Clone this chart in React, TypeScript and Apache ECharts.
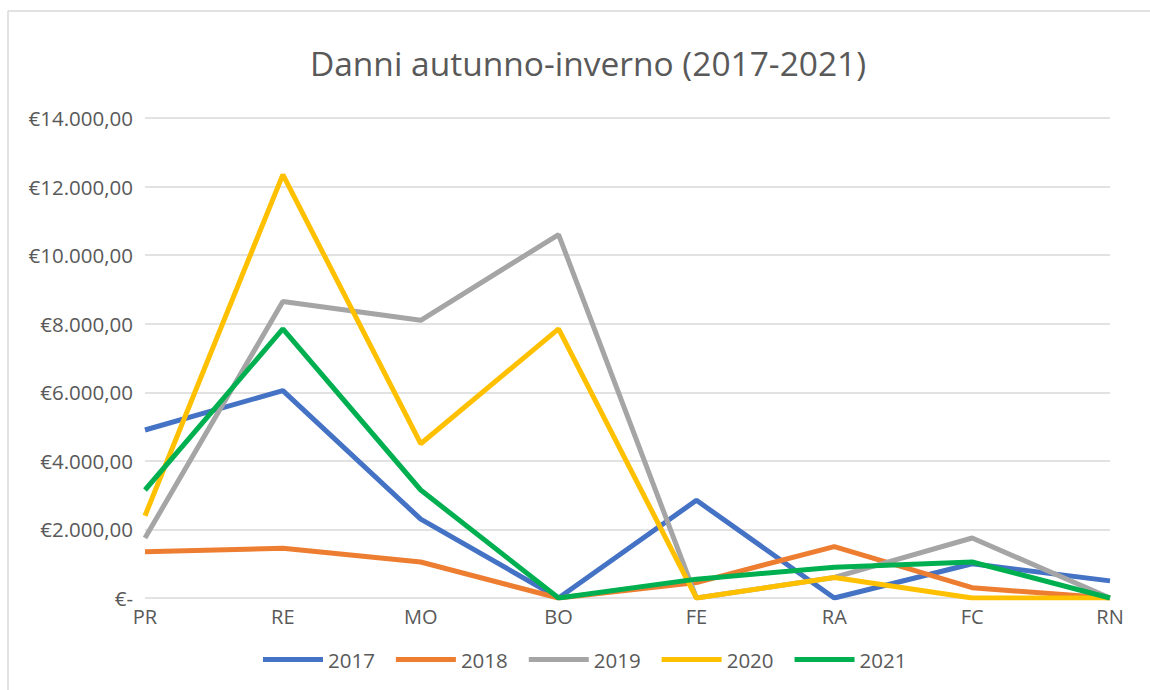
import React, { useEffect, useRef } from "react";
import * as echarts from "echarts";

const categories = ["PR", "RE", "MO", "BO", "FE", "RA", "FC", "RN"];
const years = ["2017", "2018", "2019", "2020", "2021"];
const s2017 = [4900, 6050, 2300, 0, 2850, 0, 1000, 500];
const s2018 = [1350, 1450, 1050, 0, 450, 1500, 300, 0];
const s2019 = [1750, 8650, 8100, 10600, 0, 600, 1750, 0];
const s2020 = [2400, 12350, 4500, 7850, 0, 600, 0, 0];
const s2021 = [3150, 7850, 3150, 0, 550, 900, 1050, 0];
const colors = ["#4472C4", "#ED7D31", "#A5A5A5", "#FFC000", "#00B050"];

const FONT = "'Open Sans', 'Noto Sans', sans-serif";

function fmt(v: number): string {
  if (v === 0) return "€-";
  const s = Math.round(v).toString().replace(/\B(?=(\d{3})+(?!\d))/g, ".");
  return "€" + s + ",00";
}

export default function App() {
  const ref = useRef<HTMLDivElement>(null);
  useEffect(() => {
    if (!ref.current) return;
    const chart = echarts.init(ref.current, null, { renderer: "svg" });
    const data = [s2017, s2018, s2019, s2020, s2021];
    chart.setOption({
      animation: false,
      color: colors,
      title: {
        text: "Danni autunno-inverno (2017-2021)",
        left: 583,
        top: 41,
        textAlign: "center",
        textStyle: { fontFamily: FONT, fontSize: 33.5, fontWeight: "normal", color: "#595959" },
      },
      graphic: [
        { type: "line", shape: { x1: 8, y1: 11, x2: 1150, y2: 11 }, style: { stroke: "#D9D9D9", lineWidth: 1.5 } },
        { type: "line", shape: { x1: 8, y1: 11, x2: 8, y2: 690 }, style: { stroke: "#D9D9D9", lineWidth: 1.5 } },
      ],
      legend: {
        data: years,
        bottom: 15,
        left: 258,
        icon: "rect",
        itemWidth: 60,
        itemHeight: 5,
        itemGap: 21,
        textStyle: { fontFamily: FONT, fontSize: 20.5, color: "#595959" },
      },
      grid: { left: 145, right: 40, top: 118, bottom: 92 },
      xAxis: {
        type: "category",
        data: categories,
        boundaryGap: false,
        axisLine: { show: false },
        axisTick: { show: false },
        axisLabel: { fontFamily: FONT, fontSize: 20, color: "#595959", margin: 8 },
      },
      yAxis: {
        type: "value",
        min: 0,
        max: 14000,
        interval: 2000,
        axisLine: { show: false },
        axisTick: { show: false },
        splitLine: { lineStyle: { color: "#D9D9D9", width: 1.5 } },
        axisLabel: { fontFamily: FONT, fontSize: 20.5, color: "#595959", margin: 12, formatter: fmt },
      },
      series: years.map((y, i) => ({
        name: y,
        type: "line",
        data: data[i],
        showSymbol: false,
        symbol: "none",
        lineStyle: { width: 5, color: colors[i] },
        itemStyle: { color: colors[i] },
      })),
    });
    return () => chart.dispose();
  }, []);
  return <div ref={ref} style={{ position: "absolute", left: 0, top: 0, width: 1150, height: 690, background: "#fff" }} />;
}
